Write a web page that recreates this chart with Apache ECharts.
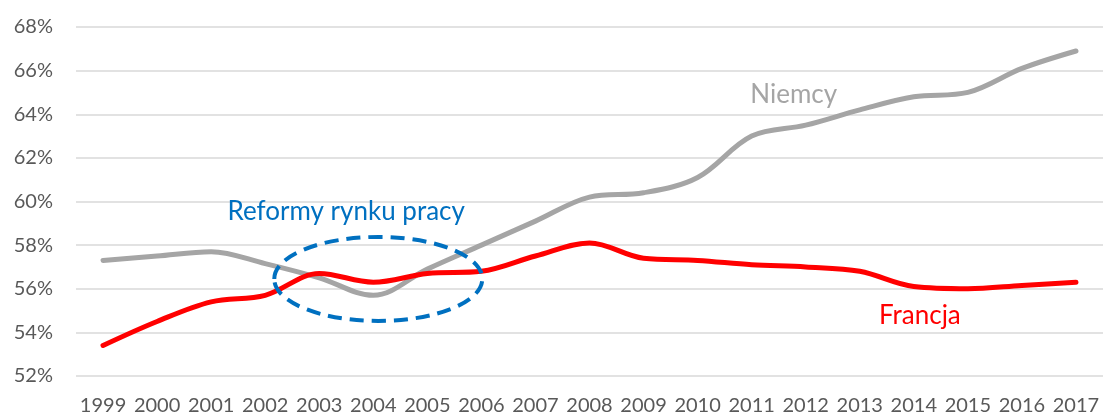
<!DOCTYPE html>
<html><head><meta charset="utf-8">
<script src="https://cdn.jsdelivr.net/npm/echarts@6/dist/echarts.min.js"></script>
<style>html,body{margin:0;padding:0;background:#fff}#c{width:1103px;height:416px}</style>
</head><body><div id="c"></div>
<script>
const years = ['1999','2000','2001','2002','2003','2004','2005','2006','2007','2008','2009','2010','2011','2012','2013','2014','2015','2016','2017'];
const niemcy = [57.3,57.5,57.7,57.15,56.5,55.7,56.9,58.0,59.1,60.2,60.4,61.1,63.0,63.5,64.2,64.8,65.0,66.1,66.9];
const francja = [53.4,54.5,55.4,55.7,56.7,56.3,56.7,56.8,57.5,58.1,57.4,57.3,57.1,57.0,56.8,56.1,56.0,56.15,56.3];
const yTicks = [52,54,56,58,60,62,64,66,68];
const FONT = 'Lato, "Open Sans", sans-serif';

const chart = echarts.init(document.getElementById('c'), null, {renderer:'canvas'});
chart.setOption({
  animation:false,
  grid:{left:76,right:0,top:27,bottom:40,containLabel:false},
  xAxis:{type:'category',data:years,boundaryGap:true,
    axisLine:{show:false},axisTick:{show:false},
    axisLabel:{color:'#595959',fontSize:20,fontFamily:FONT,margin:20,interval:0,hideOverlap:false}},
  yAxis:{type:'value',min:yTicks[0],max:yTicks[yTicks.length-1],interval:2,
    axisLine:{show:false},axisTick:{show:false},
    axisLabel:{color:'#595959',fontSize:20,fontFamily:FONT,margin:23,formatter:v=>v+'%'},
    splitLine:{lineStyle:{color:'#d9d9d9',width:1.5}}},
  series:[
    {name:'Niemcy',type:'line',data:niemcy,smooth:0.35,symbol:'none',lineStyle:{color:'#a5a5a5',width:5,cap:'round'},z:2},
    {name:'Francja',type:'line',data:francja,smooth:0.35,symbol:'none',lineStyle:{color:'#ff0000',width:5,cap:'round'},z:3}
  ]
});

function place(){
  const c = chart.convertToPixel({seriesIndex:0},['2004',56.45]);
  const n = chart.convertToPixel({seriesIndex:0},['2012',65.0]);
  const f = chart.convertToPixel({seriesIndex:0},['2015',54.7]);
  const r = chart.convertToPixel({seriesIndex:0},['2003',59.6]);
  chart.setOption({graphic:[
    {type:'ellipse',shape:{cx:c[0]+5,cy:c[1],rx:104,ry:42},
      style:{fill:null,stroke:'#0070c0',lineWidth:4,lineDash:[14,8]},z:10},
    {type:'text',x:n[0]-12,y:n[1]+2,style:{text:'Niemcy',fill:'#a5a5a5',font:'26px '+FONT,align:'center',verticalAlign:'middle'},z:10},
    {type:'text',x:f[0]-48,y:f[1]-1,style:{text:'Francja',fill:'#ff0000',font:'26px '+FONT,align:'center',verticalAlign:'middle'},z:10},
    {type:'text',x:r[0]+27,y:r[1]+1,style:{text:'Reformy rynku pracy',fill:'#0070c0',font:'26px '+FONT,align:'center',verticalAlign:'middle'},z:10}
  ]});
}
place();
</script></body></html>
